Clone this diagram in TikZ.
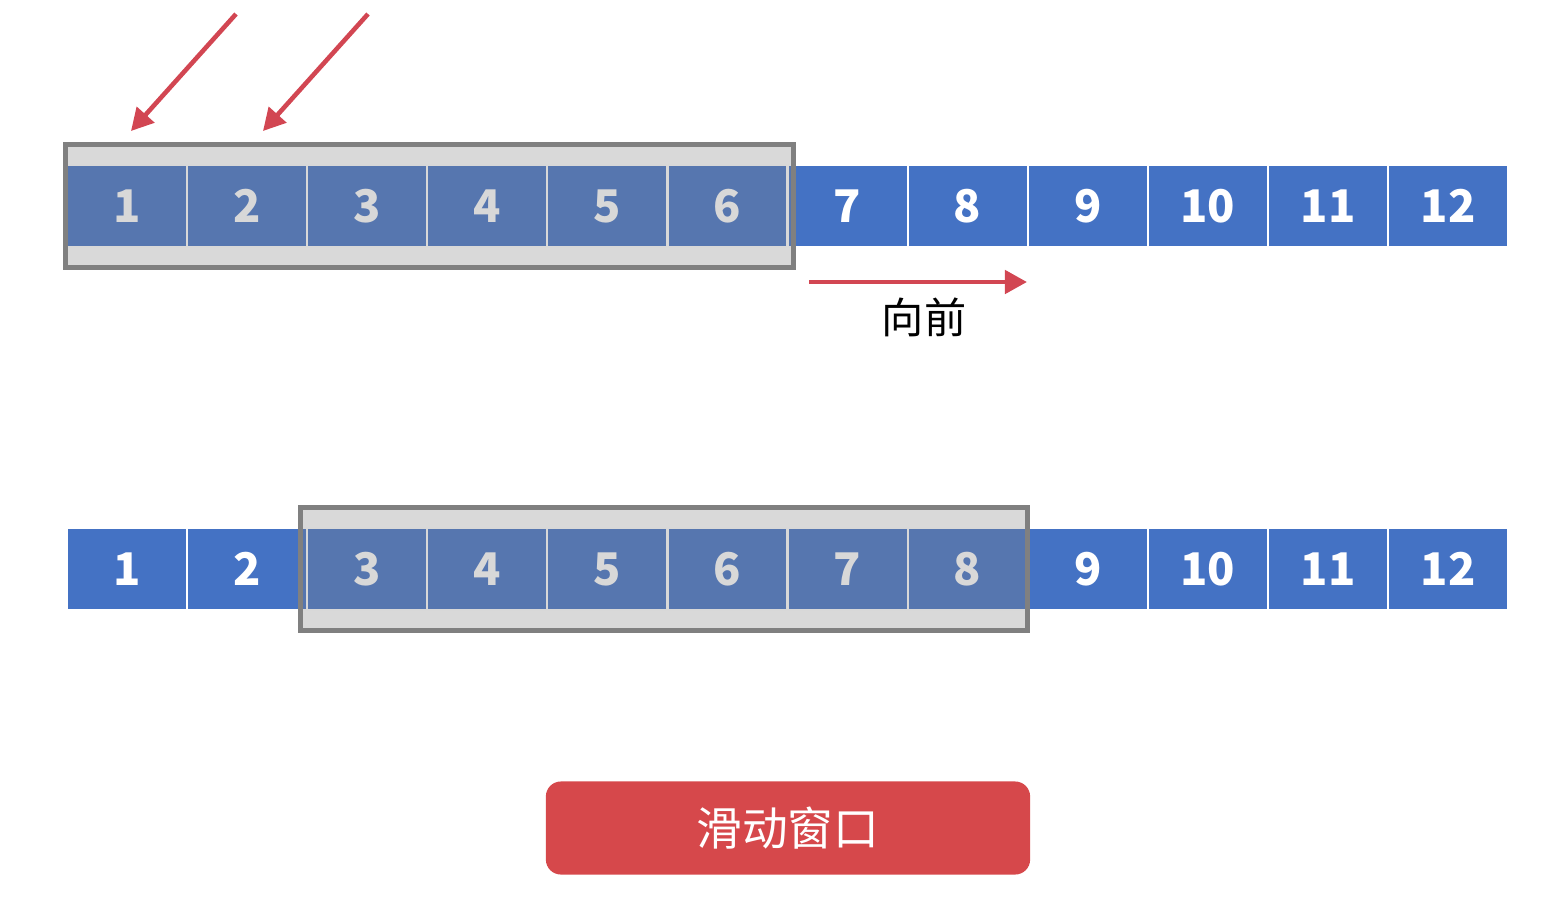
\documentclass[tikz,border=0pt]{standalone}
\usepackage{fontspec}
\usepackage{tikz}
\usetikzlibrary{arrows.meta,positioning,fit}
\newfontfamily\cjk{Noto Sans CJK SC}
\definecolor{cellblue}{RGB}{68,114,196}
\definecolor{wingray}{RGB}{128,128,128}
\definecolor{hint}{RGB}{210,70,82}
\definecolor{tagred}{RGB}{214,72,75}
\tikzset{
  cell/.style={draw=white, line width=0.6pt, fill=cellblue, text=white, inner sep=0pt,
    minimum width=1.2cm, minimum height=0.82cm, font=\cjk\bfseries\fontsize{12.8}{14}\selectfont},
  window/.style={draw=wingray, line width=1.45pt, fill=wingray, fill opacity=0.3, draw opacity=1,
    inner xsep=0.025cm, inner ysep=0.195cm},
  pointer/.style={draw=hint, line width=1.3pt, -{Triangle[length=0.22cm, width=0.23cm]}},
  lbl/.style={font=\cjk\fontsize{12}{14}\selectfont, inner sep=1pt},
  tag/.style={fill=tagred, rounded corners=0.15cm, text=white, align=center,
    minimum width=4.84cm, minimum height=0.93cm, font=\cjk\fontsize{13}{15}\selectfont}
}
\begin{document}
\begin{tikzpicture}[x=0.01cm, y=-0.01cm]
  \useasboundingbox (0,0) rectangle (1562,902);
  % two rows of cells
  \foreach \i in {1,...,12}{
    \node[cell] (c\i) at ({127+120.1*(\i-1)},206) {\i};
    \node[cell] (d\i) at ({127+120.1*(\i-1)},569) {\i};
  }
  % windows
  \node[window, fit=(c1)(c6), xshift=0.02cm] (win1) {};
  \node[window, fit=(d3)(d8), xshift=-0.035cm] (win2) {};
  % pointers
  \foreach \i/\x in {1/131, 2/263}{
    \coordinate (tip\i) at (\x,131);
    \coordinate (tail\i) at (\x+105,14);
    \draw[pointer] (tail\i) -- (tip\i);
  }
  \coordinate (fwdA) at (809,282);
  \coordinate (fwdB) at (1027,282);
  \draw[pointer] (fwdA) -- (fwdB);
  \node[lbl] (fwd) at (924,317) {向前};
  \node[tag] (title) at (788,828) {滑动窗口};
\end{tikzpicture}
\end{document}
